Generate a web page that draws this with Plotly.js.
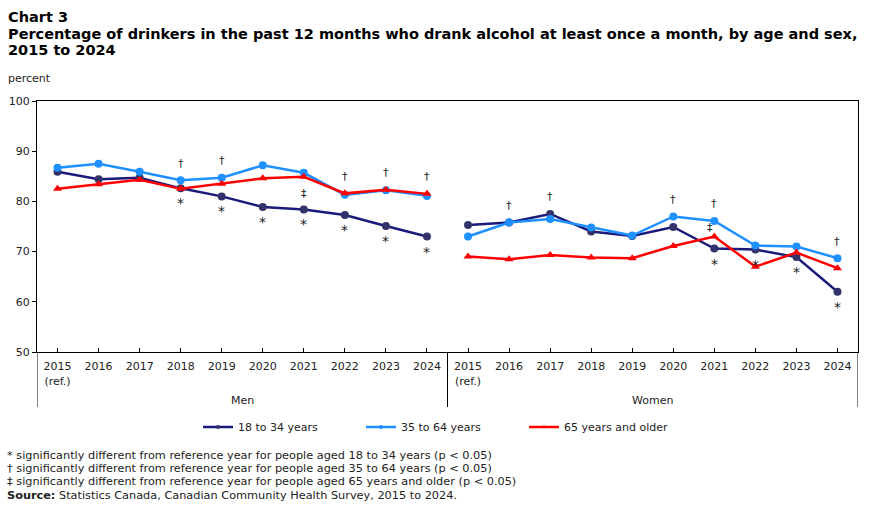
<!DOCTYPE html>
<html>
<head>
<meta charset="utf-8">
<script src="https://cdn.plot.ly/plotly-3.0.1.min.js"></script>
<style>
  html, body { margin: 0; padding: 0; background: #fff; }
  #chart { width: 874px; height: 506px; }
</style>
</head>
<body>
<div id="chart"></div>
<script>
// Survey years, shown once for each sex panel
const years = ['2015', '2016', '2017', '2018', '2019', '2020', '2021', '2022', '2023', '2024'];
const sexes = ['Men', 'Women'];
const seriesNames = ['18 to 34 years', '35 to 64 years', '65 years and older'];

// Percentage of past-12-month drinkers who drank at least once a month
const men18to34 = [85.9, 84.4, 84.7, 82.6, 81.0, 78.9, 78.4, 77.3, 75.1, 73.0];
const men35to64 = [86.7, 87.5, 85.9, 84.2, 84.7, 87.2, 85.7, 81.3, 82.2, 81.1];
const men65plus = [82.5, 83.4, 84.3, 82.5, 83.5, 84.6, 84.9, 81.6, 82.3, 81.5];
const women18to34 = [75.3, 75.8, 77.5, 74.0, 73.1, 74.9, 70.6, 70.4, 68.9, 62.0];
const women35to64 = [73.0, 75.8, 76.5, 74.8, 73.2, 77.0, 76.1, 71.2, 71.0, 68.7];
const women65plus = [69.0, 68.5, 69.3, 68.8, 68.7, 71.1, 73.0, 67.0, 69.8, 66.7];

// Significance flags versus the 2015 reference year (men years, then women years)
const sig18to34 = [0, 0, 0, 1, 1, 1, 1, 1, 1, 1, 0, 0, 0, 0, 0, 0, 1, 1, 1, 1];
const sig35to64 = [0, 0, 0, 1, 1, 0, 0, 1, 1, 1, 0, 1, 1, 0, 0, 1, 1, 0, 0, 1];
const sig65plus = [0, 0, 0, 0, 0, 0, 1, 0, 0, 0, 0, 0, 0, 0, 0, 0, 1, 0, 0, 0];

const titleLines = [
  'Chart 3',
  'Percentage of drinkers in the past 12 months who drank alcohol at least once a month, by age and sex,',
  '2015 to 2024'
];
const footnotes = [
  '* significantly different from reference year for people aged 18 to 34 years (p &lt; 0.05)',
  '† significantly different from reference year for people aged 35 to 64 years (p &lt; 0.05)',
  '‡ significantly different from reference year for people aged 65 years and older (p &lt; 0.05)',
  '<b>Source:</b> Statistics Canada, Canadian Community Health Survey, 2015 to 2024.'
];

const W = 874, H = 506;
const M = { l: 37, r: 16, t: 101, b: 154 };
const PW = W - M.l - M.r, PH = H - M.t - M.b;
const px2x = p => (p - M.l) / PW;      // container px -> paper x
const py2y = p => (H - M.b - p) / PH;  // container px -> paper y

const FONT = 'DejaVu Sans, Verdana, sans-serif';
const TXT = '#222';
const nCat = years.length * sexes.length;
const xs = Array.from({ length: nCat }, (_, i) => i);
const tickText = sexes.flatMap(() => years.map((y, i) => i === 0 ? y + '<br>(ref.)' : y));

const all18 = men18to34.concat(women18to34);
const all35 = men35to64.concat(women35to64);
const all65 = men65plus.concat(women65plus);

const styles = [
  { line: '#1a1a7a', marker: '#33336b', symbol: 'circle' },
  { line: '#1e90ff', marker: '#1e90ff', symbol: 'circle' },
  { line: '#ff0000', marker: '#ff0000', symbol: 'triangle-up' }
];
const data = [[men18to34, women18to34], [men35to64, women35to64], [men65plus, women65plus]];

const traces = [];
data.forEach((pair, s) => {
  const st = styles[s];
  // one line per sex panel, so the series breaks between Men and Women
  pair.forEach((vals, k) => {
    traces.push({
      type: 'scatter', mode: 'lines+markers', name: seriesNames[s], showlegend: false,
      x: xs.slice(k * years.length, (k + 1) * years.length), y: vals,
      line: { color: st.line, width: 2.5 },
      marker: { color: st.marker, size: 8, symbol: st.symbol }
    });
  });
  // legend key with a small marker on the line
  traces.push({
    type: 'scatter', mode: 'lines+markers', name: seriesNames[s], showlegend: true,
    x: [null], y: [null],
    line: { color: st.line, width: 2.5 },
    marker: { color: st.marker, size: 4, symbol: st.symbol }
  });
});

const annotations = [];
const noteFont = { family: FONT, size: 11, color: TXT };
const starFont = { family: FONT, size: 14, color: TXT };

// Significance symbols placed relative to the plotted values
xs.forEach(i => {
  const top = Math.max(all18[i], all35[i], all65[i]);
  if (sig35to64[i]) annotations.push({ x: i, y: top, yshift: 17, text: '†', showarrow: false, font: noteFont });
  if (sig18to34[i]) annotations.push({ x: i, y: all18[i], yshift: -15, text: '*', showarrow: false, font: starFont });
  if (sig65plus[i]) {
    const menPanel = i < years.length;
    annotations.push({ x: i, y: all65[i], yshift: menPanel ? -17 : 9, xshift: menPanel ? 0 : -4,
      text: '‡', showarrow: false, font: noteFont });
  }
});

// Panel labels under the year ticks
sexes.forEach((s, k) => {
  annotations.push({
    xref: 'x', yref: 'paper', x: k * years.length + (years.length - 1) / 2, y: py2y(400),
    yanchor: 'middle', text: s, showarrow: false, font: noteFont
  });
});

// Chart title, one line per annotation
titleLines.forEach((t, k) => {
  annotations.push({ xref: 'paper', yref: 'paper', x: px2x(6), y: py2y(16.5 + k * 17), xanchor: 'left', yanchor: 'middle',
    text: '<b>' + t + '</b>', showarrow: false, font: { family: FONT, size: 14.5, color: '#000' } });
});

// Unit label above the value axis
annotations.push({ xref: 'paper', yref: 'paper', x: px2x(6), y: py2y(78), xanchor: 'left', yanchor: 'middle',
  text: 'percent', showarrow: false, font: noteFont });

// Footnotes and source
footnotes.forEach((t, k) => {
  annotations.push({ xref: 'paper', yref: 'paper', x: px2x(5), y: py2y(455.7 + k * 13.1), xanchor: 'left', yanchor: 'middle',
    text: t, showarrow: false, font: { family: FONT, size: 11.3, color: TXT } });
});

// Vertical dividers running through the category label band
const dividerBottom = py2y(407);
const shapes = [-0.5, years.length - 0.5, nCat - 0.5].map(x => ({
  type: 'line', xref: 'x', yref: 'paper', x0: x, x1: x, y0: 0, y1: dividerBottom,
  line: { color: '#000', width: 1 }
}));

const layout = {
  width: W, height: H, margin: M,
  paper_bgcolor: '#fff', plot_bgcolor: '#fff',
  font: { family: FONT, size: 11, color: TXT },
  xaxis: {
    range: [-0.5, nCat - 0.5], tickmode: 'array', tickvals: xs, ticktext: tickText,
    ticks: 'inside', ticklen: 4, tickcolor: '#000', showgrid: false, zeroline: false,
    showline: true, linecolor: '#000', linewidth: 1, mirror: true, ticklabelstandoff: 4,
    tickfont: { family: FONT, size: 11, color: TXT }, fixedrange: true
  },
  yaxis: {
    range: [50, 100], tickmode: 'linear', tick0: 50, dtick: 10,
    ticks: 'outside', ticklen: 4, tickcolor: '#000', showgrid: false, zeroline: false,
    showline: true, linecolor: '#000', linewidth: 1, mirror: true,
    tickfont: { family: FONT, size: 11, color: TXT }, fixedrange: true
  },
  legend: {
    orientation: 'h', x: px2x(198), xanchor: 'left', y: py2y(427), yanchor: 'middle',
    entrywidth: 118, entrywidthmode: 'pixels', itemwidth: 30,
    font: { family: FONT, size: 11, color: TXT }, bgcolor: 'rgba(0,0,0,0)'
  },
  showlegend: true,
  annotations: annotations,
  shapes: shapes
};

Plotly.newPlot('chart', traces, layout, { displayModeBar: false, staticPlot: true });
</script>
</body>
</html>
